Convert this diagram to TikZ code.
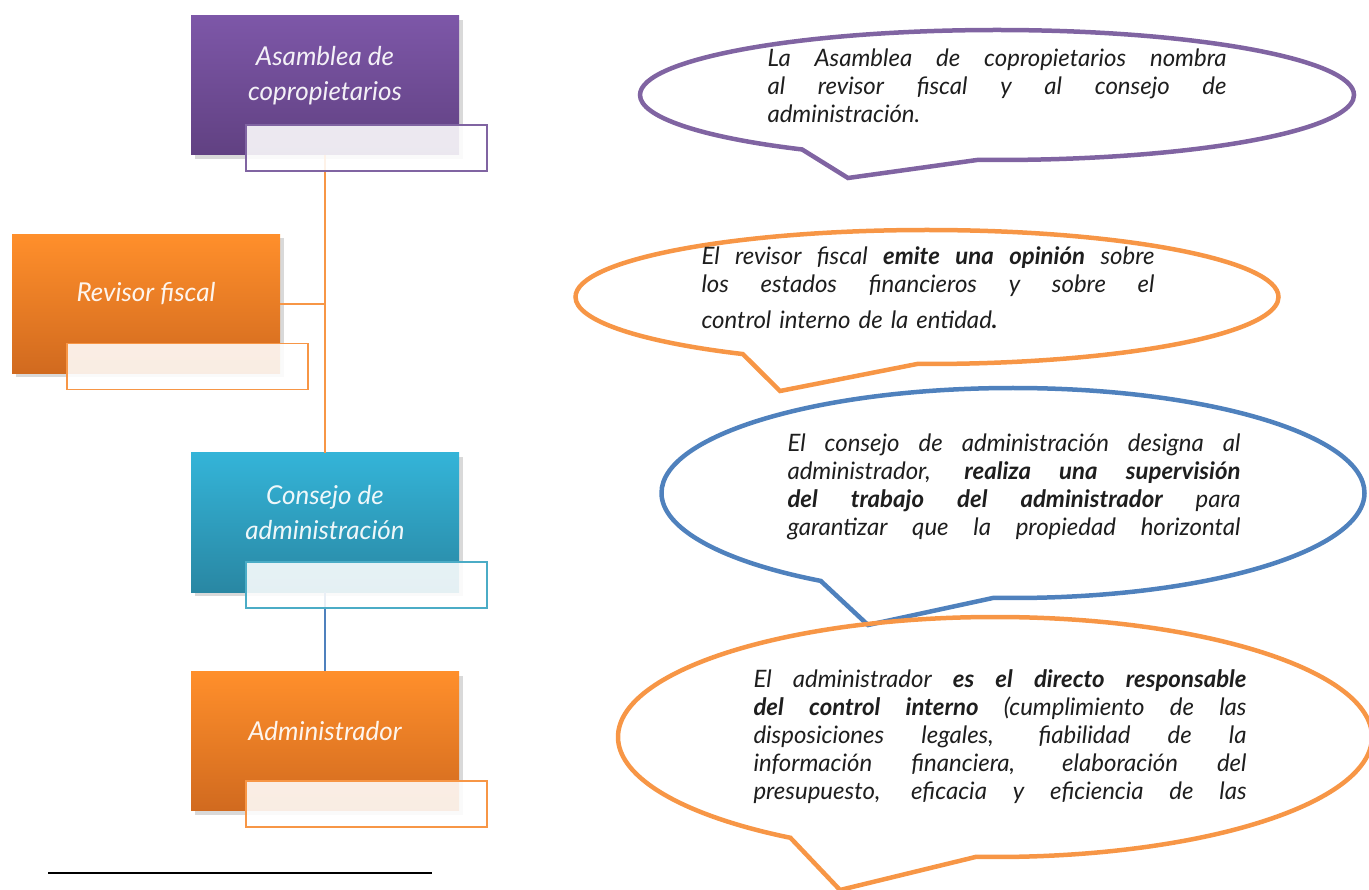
\documentclass[tikz,border=0pt]{standalone}
\usepackage{fontspec}
\setmainfont{Lato}
\usetikzlibrary{calc,shapes.callouts,shadows}

\definecolor{morado}{RGB}{128,100,162}
\definecolor{moradoalto}{RGB}{125,87,168}
\definecolor{moradobajo}{RGB}{97,65,130}
\definecolor{naranja}{RGB}{247,150,70}
\definecolor{naranjaalto}{RGB}{255,143,43}
\definecolor{naranjabajo}{RGB}{209,106,31}
\definecolor{cian}{RGB}{75,172,198}
\definecolor{cianalto}{RGB}{52,180,216}
\definecolor{cianbajo}{RGB}{41,135,163}
\definecolor{azul}{RGB}{79,129,189}
\definecolor{texto}{RGB}{30,30,30}

% one justified line = one paragraph with no fill at its end
\newcommand{\jline}[1]{{\spaceskip=.26em plus 1fil\parfillskip=0pt\noindent#1\par}}

\begin{document}
\begin{tikzpicture}[x=1pt,y=1pt,yscale=-1,
  cargo/.style={minimum width=268pt,minimum height=139pt,inner sep=0pt,
    drop shadow={opacity=.3,shadow xshift=4pt,shadow yshift=-4pt}},
  cargotexto/.style={text=white,text opacity=.92,align=center,
    font=\fontsize{26}{35}\selectfont\itshape},
  tarjeta/.style={minimum width=241pt,minimum height=46pt,inner sep=0pt,
    fill=white,fill opacity=.88,line width=1.8pt,anchor=north west},
  nube/.style={ellipse callout,line width=4.5pt,inner sep=0pt,callout pointer arc=30},
  nubetexto/.style={text=texto,inner sep=0pt,font=\fontsize{24}{28}\selectfont\itshape}]
\useasboundingbox (0,0) rectangle (1369,890);

%Boxes
\node[cargo,top color=moradoalto,bottom color=moradobajo] (asamblea) at (325,85.5) {};
\node[cargo,top color=naranjaalto,bottom color=naranjabajo] (revisor) at (146,304) {};
\node[cargo,top color=cianalto,bottom color=cianbajo] (consejo) at (325,522.5) {};
\node[cargo,top color=naranjaalto,bottom color=naranjabajo] (admin) at (325,741) {};

% Box texts
\node[cargotexto] at ($(asamblea.center)+(0,-10)$) {Asamblea de\\copropietarios};
\node[cargotexto] at ($(revisor.center)+(0,-10)$) {Revisor fiscal};
\node[cargotexto] at ($(consejo.center)+(0,-10)$) {Consejo de\\administración};
\node[cargotexto] at ($(admin.center)+(0,-10)$) {Administrador};

%Connectors
\draw[naranja,line width=2pt] (asamblea.south) -- (consejo.north);
\draw[naranja,line width=2pt] (revisor.east) -- (revisor.east -| asamblea.south);
\draw[azul,line width=2pt] (consejo.south) -- (admin.north);

%Overlapping cards
\node[tarjeta,draw=morado] (asamblea card) at ($(asamblea.south west)+(54,-31)$) {};
\node[tarjeta,draw=naranja] (revisor card) at ($(revisor.south west)+(54,-31)$) {};
\node[tarjeta,draw=cian] (consejo card) at ($(consejo.south west)+(54,-31)$) {};
\node[tarjeta,draw=naranja] (admin card) at ($(admin.south west)+(54,-31)$) {};

%Callouts
\node[nube,draw=morado,minimum width=714pt,minimum height=130pt,
  callout absolute pointer={(848,178)}] (nota asamblea) at (997,95) {};
\node[nube,draw=naranja,minimum width=703pt,minimum height=134pt,
  callout absolute pointer={(780,391)}] (nota revisor) at (927,297) {};
\node[nube,draw=azul,minimum width=703pt,minimum height=210pt,
  callout absolute pointer={(868,625)}] (nota consejo) at (1013,493) {};
\node[nube,draw=naranja,minimum width=754pt,minimum height=240pt,
  callout absolute pointer={(840,890)}] (nota admin) at (995,737) {};

% Callout texts
\node[nubetexto,text width=459pt] at ($(nota asamblea.center)+(0,-9)$) {%
  \jline{La Asamblea de copropietarios nombra}
  \jline{al revisor fiscal y al consejo de}
  \noindent administración.};
\node[nubetexto,text width=453pt] at ($(nota revisor.center)+(1,-9)$) {%
  \jline{El revisor fiscal \textbf{emite una opinión} sobre}
  \jline{los estados financieros y sobre el}
  \vspace{8pt}\noindent control interno de la entidad\textbf{.}};
\node[nubetexto,text width=453pt] at ($(nota consejo.center)+(1,-6)$) {%
  \jline{El consejo de administración designa al}
  \jline{administrador, \textbf{realiza una supervisión}}
  \jline{\textbf{del trabajo del administrador} para}
  \jline{garantizar que la propiedad horizontal}};
\node[nubetexto,text width=493pt] at ($(nota admin.center)+(5,0)$) {%
  \jline{El administrador \textbf{es el directo responsable}}
  \jline{\textbf{del control interno} (cumplimiento de las}
  \jline{disposiciones legales, fiabilidad de la}
  \jline{información financiera, elaboración del}
  \jline{presupuesto, eficacia y eficiencia de las}};

%Footnote rule
\draw[line width=1.3pt] (48,873) -- (432,873);
\end{tikzpicture}
\end{document}
